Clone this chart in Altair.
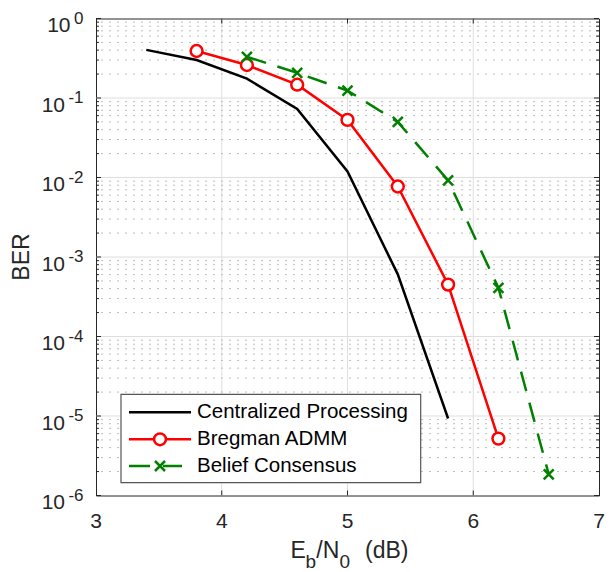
import altair as alt
import pandas as pd

# ---------------- data ----------------
ebn0_central = [3.4, 3.8, 4.2, 4.6, 5.0, 5.4, 5.8]
ber_central = [0.403, 0.30, 0.175, 0.073, 0.0119, 6.05e-4, 9.3e-6]

ebn0_bregman = [3.8, 4.2, 4.6, 5.0, 5.4, 5.8, 6.2]
ber_bregman = [0.39, 0.26, 0.147, 0.053, 0.0077, 4.5e-4, 5.2e-6]

ebn0_belief = [4.2, 4.6, 5.0, 5.4, 5.8, 6.2, 6.6]
ber_belief = [0.33, 0.207, 0.124, 0.050, 0.0092, 4.1e-4, 1.85e-6]

series_names = ["Centralized Processing", "Bregman ADMM", "Belief Consensus"]
x_ticks = [3, 4, 5, 6, 7]
y_exps = [0, -1, -2, -3, -4, -5, -6]

# ---------------- styling ----------------
W, H = 503, 477
FONT = "Liberation Sans"
AX = "#262626"
BLACK, RED, GREEN = "#000000", "#ff0000", "#008000"
LW = 2.5

xs = alt.Scale(domain=[3, 7], nice=False, zero=False)
ys = alt.Scale(type="log", domain=[1e-6, 1], nice=False)

df_c = pd.DataFrame({"x": ebn0_central, "y": ber_central})
df_b = pd.DataFrame({"x": ebn0_bregman, "y": ber_bregman})
df_g = pd.DataFrame({"x": ebn0_belief, "y": ber_belief})

X = alt.X("x:Q", scale=xs, axis=None)
Y = alt.Y("y:Q", scale=ys, axis=None)
YV = alt.Y("v:Q", scale=ys, axis=None)

xmaj = pd.DataFrame({"x": [t for t in x_ticks if 3 < t < 7]})
ymaj = pd.DataFrame({"v": [10.0 ** e for e in y_exps if -6 < e < 0]})
ymin = pd.DataFrame({"v": [k * 10.0 ** d for d in range(-6, 0) for k in range(2, 10)]})
yall = pd.DataFrame({"v": [10.0 ** e for e in y_exps]})
ylab = pd.DataFrame({"v": [10.0 ** e for e in y_exps], "e": y_exps,
                     "base": ["10"] * len(y_exps), "sup": [str(e) for e in y_exps]})
xlab = pd.DataFrame({"x": x_ticks, "t": [str(t) for t in x_ticks]})
one = pd.DataFrame({"a": [0]})

layers = []
# grids
layers.append(alt.Chart(xmaj).mark_rule(color="#dedede", strokeWidth=1).encode(x=X))
layers.append(alt.Chart(ymaj).mark_rule(color="#dedede", strokeWidth=1).encode(y=YV))
layers.append(alt.Chart(ymin).mark_rule(color="#bdbdbd", strokeWidth=1, strokeDash=[2, 6]).encode(y=YV))
# inward ticks
layers.append(alt.Chart(xmaj).mark_rule(color=AX, strokeWidth=1).encode(x=X, y=alt.value(H), y2=alt.value(H - 5)))
layers.append(alt.Chart(xmaj).mark_rule(color=AX, strokeWidth=1).encode(x=X, y=alt.value(0), y2=alt.value(5)))
layers.append(alt.Chart(yall).mark_rule(color=AX, strokeWidth=1).encode(y=YV, x=alt.value(0), x2=alt.value(5)))
layers.append(alt.Chart(yall).mark_rule(color=AX, strokeWidth=1).encode(y=YV, x=alt.value(W - 5), x2=alt.value(W)))
layers.append(alt.Chart(ymin).mark_rule(color=AX, strokeWidth=1).encode(y=YV, x=alt.value(0), x2=alt.value(3)))
layers.append(alt.Chart(ymin).mark_rule(color=AX, strokeWidth=1).encode(y=YV, x=alt.value(W - 3), x2=alt.value(W)))

# data
XSHAPE = "M-1,-1L1,1M1,-1L-1,1"
layers.append(alt.Chart(df_c).mark_line(color=BLACK, strokeWidth=LW).encode(x=X, y=Y))
layers.append(alt.Chart(df_b).mark_line(color=RED, strokeWidth=LW).encode(x=X, y=Y))
layers.append(alt.Chart(df_g).mark_line(color=GREEN, strokeWidth=LW, strokeDash=[20, 12]).encode(x=X, y=Y))
layers.append(alt.Chart(df_b).mark_point(shape="circle", size=140, fill="white", fillOpacity=1,
                                         stroke=RED, strokeWidth=LW, opacity=1).encode(x=X, y=Y))
layers.append(alt.Chart(df_g).mark_point(shape=XSHAPE, size=100, filled=False,
                                         stroke=GREEN, strokeWidth=LW, opacity=1).encode(x=X, y=Y))

# legend
layers.append(alt.Chart(one).mark_rect(fill="white", stroke="#555555", strokeWidth=1.2).encode(
    x=alt.value(25), x2=alt.value(324.7), y=alt.value(375.8), y2=alt.value(464.2)))
rows = [393.8, 420.8, 447.5]
layers.append(alt.Chart(one).mark_rule(color=BLACK, strokeWidth=LW).encode(
    x=alt.value(33), x2=alt.value(95), y=alt.value(rows[0])))
layers.append(alt.Chart(one).mark_rule(color=RED, strokeWidth=LW).encode(
    x=alt.value(33), x2=alt.value(95), y=alt.value(rows[1])))
layers.append(alt.Chart(one).mark_point(shape="circle", size=140, fill="white", fillOpacity=1,
                                        stroke=RED, strokeWidth=LW, opacity=1).encode(
    x=alt.value(64), y=alt.value(rows[1])))
layers.append(alt.Chart(one).mark_rule(color=GREEN, strokeWidth=LW, strokeDash=[21, 13]).encode(
    x=alt.value(33), x2=alt.value(86), y=alt.value(rows[2])))
layers.append(alt.Chart(one).mark_point(shape=XSHAPE, size=100, filled=False,
                                        stroke=GREEN, strokeWidth=LW, opacity=1).encode(
    x=alt.value(64), y=alt.value(rows[2])))
for name, ry in zip(series_names, rows):
    layers.append(alt.Chart(pd.DataFrame({"t": [name]})).mark_text(
        align="left", baseline="middle", font=FONT, fontSize=20.5, color=BLACK).encode(
        x=alt.value(101), y=alt.value(ry), text="t:N"))

# y tick labels (10 with superscript exponent)
layers.append(alt.Chart(ylab).transform_filter("datum.e == 0").mark_text(
    align="right", baseline="alphabetic", dy=13.5, font=FONT, fontSize=21, color=AX).encode(
    x=alt.value(-25.5), y=YV, text="base:N"))
layers.append(alt.Chart(ylab).transform_filter("datum.e != 0").mark_text(
    align="right", baseline="alphabetic", dy=13.5, font=FONT, fontSize=21, color=AX).encode(
    x=alt.value(-31), y=YV, text="base:N"))
layers.append(alt.Chart(ylab).mark_text(
    align="right", baseline="alphabetic", dy=5, font=FONT, fontSize=17, color=AX).encode(
    x=alt.value(-12.5), y=YV, text="sup:N"))

# x tick labels
layers.append(alt.Chart(xlab).mark_text(
    align="center", baseline="alphabetic", font=FONT, fontSize=21, color=AX).encode(
    x=X, y=alt.value(H + 32.5), text="t:N"))

# axis titles
layers.append(alt.Chart(pd.DataFrame({"t": ["BER"]})).mark_text(
    align="center", baseline="middle", angle=270, font=FONT, fontSize=23, color=AX).encode(
    x=alt.value(-74.5), y=alt.value(H / 2), text="t:N"))
title_parts = [("E", 194.5, 539.5, 23), ("b", 209.5, 549.5, 19), ("/N", 220.3, 539.5, 23),
               ("0", 243.5, 549.5, 19), ("(dB)", 269, 539.5, 23)]
for txt, px, py, fs in title_parts:
    layers.append(alt.Chart(pd.DataFrame({"t": [txt]})).mark_text(
        align="left", baseline="alphabetic", font=FONT, fontSize=fs, color=AX).encode(
        x=alt.value(px), y=alt.value(py), text="t:N"))

chart = alt.layer(*layers).properties(
    width=W, height=H,
    autosize=alt.AutoSizeParams(type="none"),
    padding={"left": 88, "top": 10.5, "right": 6, "bottom": 75},
    background="white",
).configure_view(stroke=AX, strokeWidth=1)

chart.save("out.html", embed_options={"renderer": "svg", "actions": False})
